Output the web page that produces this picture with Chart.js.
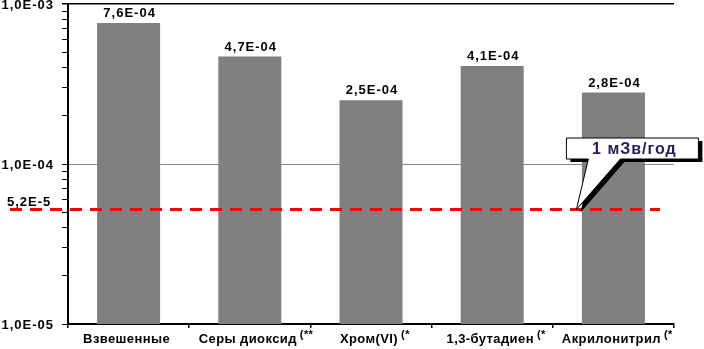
<!DOCTYPE html>
<html>
<head>
<meta charset="utf-8">
<script src="https://cdn.jsdelivr.net/npm/chart.js@4/dist/chart.umd.min.js"></script>
<style>
  html, body { margin: 0; padding: 0; background: #fff; }
  #wrap { width: 704px; height: 349px; }
</style>
</head>
<body>
<div id="wrap"><canvas id="doseChart"></canvas></div>
<script>
const categories = ['Взвешенные', 'Серы диоксид', 'Хром(VI)', '1,3-бутадиен', 'Акрилонитрил'];
const notes = ['', '(**', '(*', '(*', '(*'];
const values = [7.6e-4, 4.7e-4, 2.5e-4, 4.1e-4, 2.8e-4];
const decadeTicks = [1e-5, 1e-4, 1e-3];
const limitValue = 5.2e-5;
const limitText = '5,2E-5';
const calloutText = '1 мЗв/год';

const FONT = '"Liberation Sans", Arial, sans-serif';

function fmtExp(v) {
  const s = v.toExponential(1).split('e');
  const exp = parseInt(s[1], 10);
  const sign = exp < 0 ? '-' : '+';
  return s[0].replace('.', ',') + 'E' + sign + String(Math.abs(exp)).padStart(2, '0');
}

// value labels, axis labels, limit line and callout
const extras = {
  id: 'extras',
  afterDatasetsDraw(chart) {
    const ctx = chart.ctx;
    const xs = chart.scales.x, ys = chart.scales.y;
    const area = chart.chartArea;
    ctx.save();
    ctx.fillStyle = '#000';

    // y labels for decades
    ctx.letterSpacing = '1px';
    ctx.font = 'bold 13px ' + FONT;
    ctx.textAlign = 'right';
    ctx.textBaseline = 'middle';
    decadeTicks.forEach(v => {
      ctx.fillText(fmtExp(v), area.left - 14, ys.getPixelForValue(v) + 1);
    });

    // bar values
    ctx.textAlign = 'center';
    ctx.textBaseline = 'bottom';
    chart.getDatasetMeta(0).data.forEach((bar, i) => {
      ctx.fillText(fmtExp(values[i]), bar.x + 1, bar.y - 3);
    });

    // category labels: base text centred, note raised after it
    ctx.letterSpacing = '0.4px';
    ctx.textBaseline = 'alphabetic';
    categories.forEach((name, i) => {
      const cx = xs.getPixelForValue(i);
      ctx.font = 'bold 13px ' + FONT;
      const w1 = ctx.measureText(name).width;
      const x0 = cx - w1 / 2 - 2;
      ctx.textAlign = 'left';
      ctx.fillText(name, x0, area.bottom + 19);
      if (notes[i]) {
        ctx.font = 'bold 11px ' + FONT;
        ctx.fillText(notes[i], x0 + w1 + 3, area.bottom + 14);
      }
    });

    // limit line
    const ly = ys.getPixelForValue(limitValue);
    ctx.strokeStyle = '#ff0000';
    ctx.lineWidth = 3;
    ctx.setLineDash([12, 8]);
    ctx.beginPath();
    ctx.moveTo(10, ly);
    ctx.lineTo(660, ly);
    ctx.stroke();
    ctx.setLineDash([]);
    ctx.letterSpacing = '1px';
    ctx.font = 'bold 13px ' + FONT;
    ctx.textAlign = 'left';
    ctx.fillText(limitText, 7, ly - 3);

    // callout
    const tipX = xs.getPixelForValue(4) - 37;
    const tipY = ly;
    const bx = tipX - 10, by = 138, bw = 132, bh = 21;
    const p1 = bx + 22, p2 = bx + 54;
    const shape = (dx, dy) => {
      ctx.beginPath();
      ctx.moveTo(bx + dx, by + dy);
      ctx.lineTo(bx + bw + dx, by + dy);
      ctx.lineTo(bx + bw + dx, by + bh + dy);
      ctx.lineTo(p2 + dx, by + bh + dy);
      ctx.lineTo(tipX + dx, tipY + dy);
      ctx.lineTo(p1 + dx, by + bh + dy);
      ctx.lineTo(bx + dx, by + bh + dy);
      ctx.closePath();
    };
    ctx.fillStyle = '#000';
    shape(4, 3);
    ctx.fill();
    shape(0, 0);
    ctx.fillStyle = '#fff';
    ctx.fill();
    ctx.strokeStyle = '#000';
    ctx.lineWidth = 1;
    ctx.stroke();
    ctx.fillStyle = '#1f1f5c';
    ctx.letterSpacing = '1px';
    ctx.font = 'bold 16px ' + FONT;
    ctx.textAlign = 'center';
    ctx.textBaseline = 'middle';
    ctx.fillText(calloutText, bx + bw / 2 + 2, by + bh / 2 + 1);

    ctx.restore();
  }
};

new Chart(document.getElementById('doseChart'), {
  type: 'bar',
  data: {
    labels: categories,
    datasets: [{
      data: values,
      backgroundColor: '#808080',
      borderWidth: 0,
      barPercentage: 0.52,
      categoryPercentage: 1
    }]
  },
  options: {
    responsive: true,
    maintainAspectRatio: false,
    animation: false,
    layout: { padding: { top: 4, right: 30, left: 0, bottom: 0 } },
    plugins: { legend: { display: false }, tooltip: { enabled: false } },
    scales: {
      x: {
        offset: true,
        grid: { offset: true, drawOnChartArea: false, tickLength: 4, tickColor: '#000', lineWidth: 1.5 },
        border: { color: '#000', width: 2 },
        ticks: { display: false },
        afterFit(s) { s.height = 25; }
      },
      y: {
        type: 'logarithmic',
        min: 1e-5,
        max: 1e-3,
        afterBuildTicks(s) {
          const t = [];
          for (let e = -5; e <= -3; e++) {
            for (let m = 1; m <= 9; m++) {
              const v = m * Math.pow(10, e);
              if (v <= 1e-3 * 1.0000001) t.push({ value: v });
            }
          }
          s.ticks = t;
        },
        grid: {
          color: c => {
            const v = c.tick && c.tick.value;
            if (v && Math.abs(v - 1e-3) < 1e-12) return '#000';
            if (v && Math.abs(v - 1e-4) < 1e-13) return '#888';
            return 'rgba(0,0,0,0)';
          },
          lineWidth: c => (c.tick && Math.abs(c.tick.value - 1e-3) < 1e-12) ? 1.5 : 1,
          tickColor: '#000',
          tickLength: 6,
          drawTicks: true
        },
        border: { color: '#000', width: 2 },
        ticks: { display: false },
        afterFit(s) { s.width = 68; s.paddingTop = 0; s.paddingBottom = 0; }
      }
    }
  },
  plugins: [extras]
});
</script>
</body>
</html>
